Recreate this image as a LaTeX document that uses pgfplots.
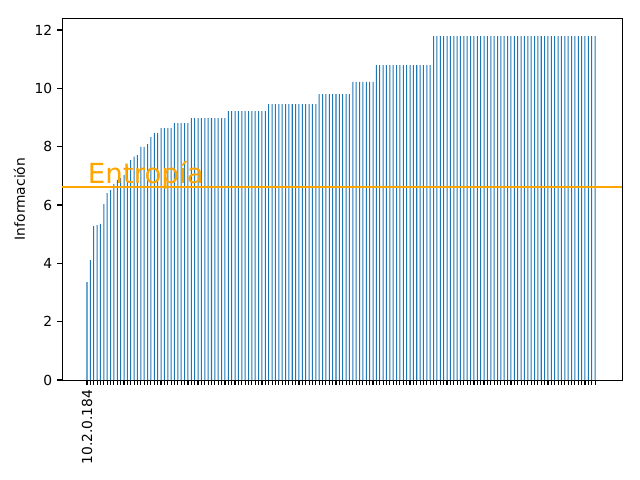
\documentclass[border=0pt]{standalone}
\usepackage{pgfplots}
\pgfplotsset{compat=1.18}
\usepackage{fontspec}
\setmainfont{DejaVu Sans}
\definecolor{mplblue}{HTML}{1F77B4}
\definecolor{mplorange}{HTML}{FFA500}
\begin{document}
\begin{tikzpicture}
\begin{axis}[
  scale only axis, width=403.2bp, height=260.6bp,
  at={(0,0)}, anchor=south west,
  xmin=-7.43, xmax=159, ymin=0, ymax=12.41,
  xtick={0,...,151}, xticklabels={10.2.0.184},
  xticklabel style={rotate=90, anchor=east, font=\fontsize{10}{12}\selectfont},
  yticklabel style={font=\fontsize{10}{12}\selectfont},
  ytick={0,2,...,12},
  tick align=outside, xtick pos=bottom, ytick pos=left,
  major tick length=3.5bp,
  /pgf/number format/assume math mode=true,
  ylabel={Información}, ylabel style={font=\fontsize{10}{12}\selectfont},
  axis line style={black},
  tick style={black, line width=0.8bp},
]
\addplot[ybar, bar width=0.3, fill=mplblue, draw=none] table[x expr=\coordindex, y index=0] {
y
3.36
4.11
5.28
5.31
5.35
6.03
6.41
6.51
6.72
6.86
6.92
7.03
7.31
7.54
7.66
7.71
7.99
7.99
8.09
8.33
8.47
8.47
8.64
8.64
8.64
8.64
8.81
8.81
8.81
8.81
8.81
8.98
8.98
8.98
8.98
8.98
8.98
8.98
8.98
8.98
8.98
8.98
9.22
9.22
9.22
9.22
9.22
9.22
9.22
9.22
9.22
9.22
9.22
9.22
9.46
9.46
9.46
9.46
9.46
9.46
9.46
9.46
9.46
9.46
9.46
9.46
9.46
9.46
9.46
9.80
9.80
9.80
9.80
9.80
9.80
9.80
9.80
9.80
9.80
10.22
10.22
10.22
10.22
10.22
10.22
10.22
10.80
10.80
10.80
10.80
10.80
10.80
10.80
10.80
10.80
10.80
10.80
10.80
10.80
10.80
10.80
10.80
10.80
11.79
11.79
11.79
11.79
11.79
11.79
11.79
11.79
11.79
11.79
11.79
11.79
11.79
11.79
11.79
11.79
11.79
11.79
11.79
11.79
11.79
11.79
11.79
11.79
11.79
11.79
11.79
11.79
11.79
11.79
11.79
11.79
11.79
11.79
11.79
11.79
11.79
11.79
11.79
11.79
11.79
11.79
11.79
11.79
11.79
11.79
11.79
11.79
11.79
};
\addplot[mplorange, line width=1.1bp] coordinates {(-7.43,6.62) (159,6.62)};
\node[anchor=base west, text=mplorange, font=\fontsize{20}{24}\selectfont, inner sep=0pt] at (axis cs:0.2,6.75) {Entropía};
\end{axis}
\path[use as bounding box] (-44.64bp,-72bp) rectangle ++(460.8bp,345.6bp);
\end{tikzpicture}
\end{document}
